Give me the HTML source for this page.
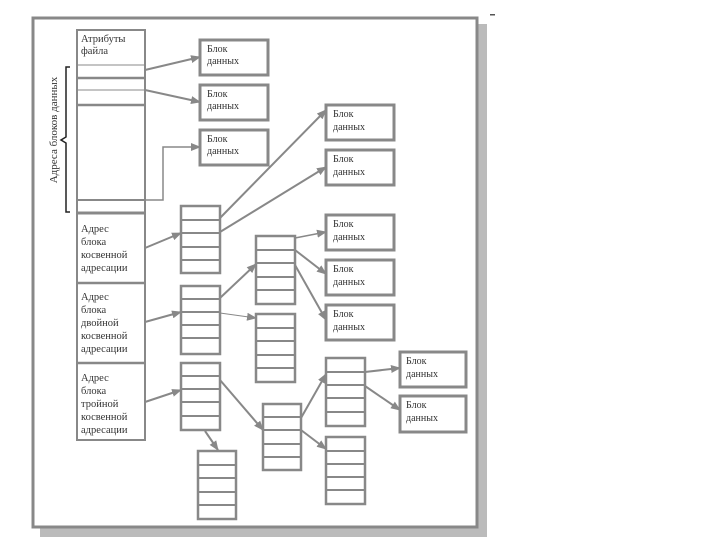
<!DOCTYPE html>
<html><head><meta charset="utf-8"><style>
html,body{margin:0;padding:0;background:#fff;}
svg{display:block;}
text{font-family:"Liberation Serif",serif;fill:#333;}
</style></head><body>
<svg width="720" height="540" viewBox="0 0 720 540" xmlns="http://www.w3.org/2000/svg">
<defs>
<marker id="a" markerWidth="10" markerHeight="8" refX="9" refY="4" orient="auto" markerUnits="userSpaceOnUse">
<path d="M0,0 L10,4 L0,8 z" fill="#888"/></marker>
</defs>
<!-- shadow -->
<rect x="478" y="24" width="9" height="513" fill="#bbb"/>
<rect x="40" y="528" width="447" height="9" fill="#bbb"/>
<rect x="33" y="18" width="444" height="509" fill="#fff" stroke="#888" stroke-width="3"/>
<rect x="490" y="14" width="5" height="1.5" fill="#555"/>

<g stroke="#888" fill="none">
<!-- inode -->
<rect x="77" y="30" width="68" height="410" stroke-width="2"/>
<g stroke-width="1.5">
<line x1="77" y1="65" x2="145" y2="65" stroke-width="1"/>
<line x1="77" y1="78" x2="145" y2="78" stroke-width="2.5"/>
<line x1="77" y1="90" x2="145" y2="90" stroke-width="1"/>
<line x1="77" y1="105" x2="145" y2="105" stroke-width="2.5"/>
<line x1="77" y1="200" x2="145" y2="200" stroke-width="2"/>
<line x1="77" y1="213" x2="145" y2="213" stroke-width="3"/>
<line x1="77" y1="283" x2="145" y2="283" stroke-width="2.5"/>
<line x1="77" y1="363" x2="145" y2="363" stroke-width="2.5"/>
</g>
<!-- data blocks -->
<g stroke-width="3">
<rect x="200" y="40" width="68" height="35"/>
<rect x="200" y="85" width="68" height="35"/>
<rect x="200" y="130" width="68" height="35"/>
<rect x="326" y="105" width="68" height="35"/>
<rect x="326" y="150" width="68" height="35"/>
<rect x="326" y="215" width="68" height="35"/>
<rect x="326" y="260" width="68" height="35"/>
<rect x="326" y="305" width="68" height="35"/>
<rect x="400" y="352" width="66" height="35"/>
<rect x="400" y="396" width="66" height="36"/>
</g>
<!-- index blocks -->
<g stroke-width="2.5">
<rect x="181" y="206" width="39" height="67"/>
<rect x="181" y="286" width="39" height="68"/>
<rect x="181" y="363" width="39" height="67"/>
<rect x="256" y="236" width="39" height="68"/>
<rect x="256" y="314" width="39" height="68"/>
<rect x="198" y="451" width="38" height="68"/>
<rect x="263" y="404" width="38" height="66"/>
<rect x="326" y="358" width="39" height="68"/>
<rect x="326" y="437" width="39" height="67"/>
</g>
<g stroke-width="2">
<path d="M181 220H220M181 233H220M181 247H220M181 260H220"/>
<path d="M181 299H220M181 312H220M181 325H220M181 338H220"/>
<path d="M181 376H220M181 389H220M181 402H220M181 416H220"/>
<path d="M256 250H295M256 263H295M256 277H295M256 290H295"/>
<path d="M256 328H295M256 341H295M256 355H295M256 368H295"/>
<path d="M198 465H236M198 478H236M198 492H236M198 505H236"/>
<path d="M263 417H301M263 430H301M263 444H301M263 457H301"/>
<path d="M326 372H365M326 385H365M326 398H365M326 412H365"/>
<path d="M326 451H365M326 464H365M326 477H365M326 490H365"/>
</g>
<!-- arrows -->
<g stroke-width="2" marker-end="url(#a)">
<line x1="145" y1="70" x2="200" y2="57"/>
<line x1="145" y1="90" x2="200" y2="102"/>
<polyline points="145,200 163,200 163,147 200,147" stroke-width="1.5"/>
<line x1="145" y1="248" x2="181" y2="233"/>
<line x1="145" y1="322" x2="181" y2="312"/>
<line x1="145" y1="402" x2="181" y2="390"/>
<line x1="220" y1="218" x2="326" y2="110"/>
<line x1="220" y1="232" x2="326" y2="167"/>
<line x1="220" y1="298" x2="256" y2="264"/>
<line x1="220" y1="313" x2="256" y2="318" stroke-width="1"/>
<line x1="295" y1="238" x2="326" y2="232" stroke-width="1.5"/>
<line x1="295" y1="250" x2="326" y2="274"/>
<line x1="295" y1="265" x2="326" y2="320"/>
<line x1="220" y1="380" x2="263" y2="430"/>
<line x1="205" y1="431" x2="218" y2="450"/>
<line x1="301" y1="418" x2="326" y2="374"/>
<line x1="301" y1="430" x2="326" y2="449"/>
<line x1="365" y1="372" x2="400" y2="368"/>
<line x1="365" y1="386" x2="400" y2="410"/>
</g>
<!-- brace -->
<path d="M70 67 H66 V137 L61 140 L66 143 V212 H70" stroke="#222" stroke-width="1.5"/>
</g>

<text transform="translate(57,130) rotate(-90)" text-anchor="middle" font-size="11">Адреса блоков данных</text>

<g font-size="10.5">
<text x="81" y="42">Атрибуты</text><text x="81" y="54">файла</text>
<text x="81" y="232">Адрес</text><text x="81" y="245">блока</text><text x="81" y="258">косвенной</text><text x="81" y="271">адресации</text>
<text x="81" y="300">Адрес</text><text x="81" y="313">блока</text><text x="81" y="326">двойной</text><text x="81" y="339">косвенной</text><text x="81" y="352">адресации</text>
<text x="81" y="381">Адрес</text><text x="81" y="394">блока</text><text x="81" y="407">тройной</text><text x="81" y="420">косвенной</text><text x="81" y="433">адресации</text>
</g>
<g font-size="10">
<text x="207" y="52">Блок</text><text x="207" y="64">данных</text>
<text x="207" y="97">Блок</text><text x="207" y="109">данных</text>
<text x="207" y="142">Блок</text><text x="207" y="154">данных</text>
<text x="333" y="117">Блок</text><text x="333" y="130">данных</text>
<text x="333" y="162">Блок</text><text x="333" y="175">данных</text>
<text x="333" y="227">Блок</text><text x="333" y="240">данных</text>
<text x="333" y="272">Блок</text><text x="333" y="285">данных</text>
<text x="333" y="317">Блок</text><text x="333" y="330">данных</text>
<text x="406" y="364">Блок</text><text x="406" y="377">данных</text>
<text x="406" y="408">Блок</text><text x="406" y="421">данных</text>
</g>
</svg>
</body></html>
